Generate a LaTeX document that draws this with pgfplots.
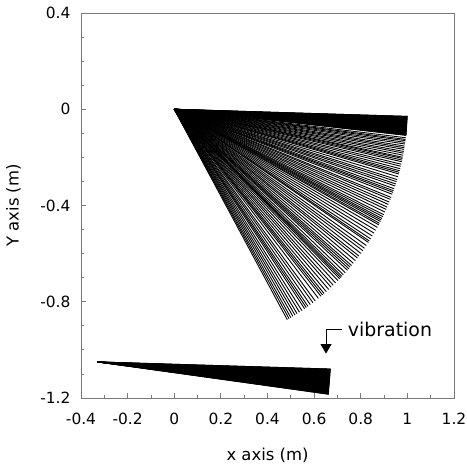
\documentclass[border=0pt]{standalone}
\usepackage{fontspec}
\setmainfont{DejaVu Sans}
\usepackage{pgfplots}
\pgfplotsset{compat=1.18}
\usetikzlibrary{arrows.meta}
\definecolor{axgray}{RGB}{122,122,122}
\begin{document}
\begin{tikzpicture}
\begin{axis}[
  name=ax,
  scale only axis,
  width=373bp, height=385bp,
  xmin=-0.4, xmax=1.2, ymin=-1.2, ymax=0.4,
  xtick={-0.4,-0.2,0,0.2,0.4,0.6,0.8,1,1.2},
  ytick={-1.2,-0.8,-0.4,0,0.4},
  minor x tick num=1, minor y tick num=3,
  tick pos=left, tick align=inside,
  major tick length=5bp, minor tick length=3.5bp,
  axis line style={draw=axgray, line width=0.8bp},
  every tick/.style={draw=axgray, line width=0.8bp},
  /pgf/number format/assume math mode=true,
  ticklabel style={font=\fontsize{15.5}{18}\selectfont},
  xticklabel shift=12bp,
  yticklabel shift=7bp,
  xlabel={x axis (m)}, ylabel={Y axis (m)},
  label style={font=\fontsize{16.5}{19}\selectfont},
  xlabel style={at={(axis description cs:0.5,-0.148)}, anchor=center},
  ylabel style={at={(axis description cs:-0.181,0.5)}, anchor=center},
  fan/.style={black, line width=0.9pt, no marks, forget plot},
]
% dense (overlapping) parts of the two fans
\addplot[fan, fill=black] coordinates {(0,0) (0.9996,-0.0297) (0.9942,-0.1080) (0,0)};
\addplot[fan, fill=black] coordinates {(-0.33,-1.05) (0.6696,-1.0797) (0.6610,-1.1840) (-0.33,-1.05)};
% upper fan: pendulum positions, (angle in degrees, radius in m)
\pgfplotsinvokeforeach{-1.7,-1.85,-2.0,-2.15,-2.3,-2.45,-2.6,-2.75,-2.9,-3.05,-3.2,-3.35,-3.5,-3.65,-3.8,-3.95,-4.1,-4.25,-4.4,-4.55,-4.7,-4.85,-5.0,-5.15,-5.3,-5.45,-5.6,-5.75,-5.9,-6.05,-6.2,
-6.8,-7.2,-7.5,-7.9,-8.3,-8.8,-9.2,-9.6,-10.1,-10.5,-11.0,-11.5,-11.8,-12.2,-12.6,-13.2,-13.7,-14.3,-14.8,-15.2,-15.6,-16.3,-17.0,-17.5,-18.1,-18.6,-19.3,-19.8,-20.2,-20.7,-21.5,-22.0,-22.7,-23.3,-24.0,-24.6,-25.3,-26.0,-26.5,-27.0,-27.4,-27.8,-28.3,-28.7,-29.4,-30.2,-31.0,-31.8,-32.6,-33.2,-33.6,-34.5,-35.3,-36.0,-36.8,-37.6,-38.2,-39.0,-39.8,-40.5,-41.0,-41.5,-42.0,-42.8,-43.5,-44.0,-44.4,-44.8,-45.4,-46.2,-47.0,-47.7,-48.5,-49.3,-50.0,-50.5,-51.0,-51.8,-52.8,-53.5,-54.3,-55.0,-55.5,-56.0,-56.8,-57.5,-58.2,-58.8,-59.4,-60.0,-60.5,-61.0}{
  \addplot[fan, data cs=polar] coordinates {(#1,0) (#1,1)};
}
% lower fan: pivot at (-0.33,-1.05)
\addplot[fan] coordinates {(-0.33,-1.05) (0.6696,-1.0797)};
\addplot[fan] coordinates {(-0.33,-1.05) (0.6694,-1.0849)};
\addplot[fan] coordinates {(-0.33,-1.05) (0.6692,-1.0893)};
\addplot[fan] coordinates {(-0.33,-1.05) (0.6690,-1.0936)};
\addplot[fan] coordinates {(-0.33,-1.05) (0.6689,-1.0980)};
\addplot[fan] coordinates {(-0.33,-1.05) (0.6686,-1.1023)};
\addplot[fan] coordinates {(-0.33,-1.05) (0.6684,-1.1067)};
\addplot[fan] coordinates {(-0.33,-1.05) (0.6681,-1.1111)};
\addplot[fan] coordinates {(-0.33,-1.05) (0.6679,-1.1154)};
\addplot[fan] coordinates {(-0.33,-1.05) (0.6676,-1.1198)};
\addplot[fan] coordinates {(-0.33,-1.05) (0.6672,-1.1241)};
\addplot[fan] coordinates {(-0.33,-1.05) (0.6669,-1.1285)};
\addplot[fan] coordinates {(-0.33,-1.05) (0.6666,-1.1328)};
\addplot[fan] coordinates {(-0.33,-1.05) (0.6662,-1.1372)};
\addplot[fan] coordinates {(-0.33,-1.05) (0.6658,-1.1415)};
\addplot[fan] coordinates {(-0.33,-1.05) (0.6654,-1.1458)};
\addplot[fan] coordinates {(-0.33,-1.05) (0.6650,-1.1502)};
\addplot[fan] coordinates {(-0.33,-1.05) (0.6645,-1.1545)};
\addplot[fan] coordinates {(-0.33,-1.05) (0.6641,-1.1589)};
\addplot[fan] coordinates {(-0.33,-1.05) (0.6636,-1.1632)};
\addplot[fan] coordinates {(-0.33,-1.05) (0.6631,-1.1675)};
\addplot[fan] coordinates {(-0.33,-1.05) (0.6626,-1.1719)};
\addplot[fan] coordinates {(-0.33,-1.05) (0.6620,-1.1762)};
\addplot[fan] coordinates {(-0.33,-1.05) (0.6614,-1.1805)};
\addplot[fan] coordinates {(-0.33,-1.05) (0.6610,-1.1840)};
\draw[black, line width=0.9bp, -{Triangle[width=11bp,length=9.5bp]}]
  (axis cs:0.72,-0.9167) -- (axis cs:0.651,-0.9167) -- (axis cs:0.651,-1.0154);
\node[anchor=west, inner sep=0pt, font=\fontsize{19}{22}\selectfont] at (axis cs:0.744,-0.9167) {vibration};
\end{axis}
\pgfresetboundingbox
\path[use as bounding box] ([xshift=-81bp,yshift=-70bp]ax.south west) rectangle ([xshift=13bp,yshift=13bp]ax.north east);
\end{tikzpicture}
\end{document}
